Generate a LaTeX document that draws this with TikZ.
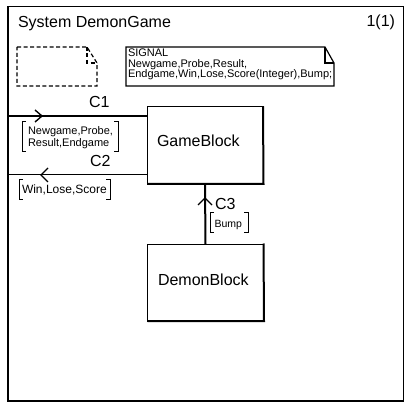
\documentclass[tikz,border=0pt]{standalone}
\usepackage{fontspec}
\setmainfont{Liberation Sans}
\begin{document}
\begin{tikzpicture}[x=1pt,y=-1pt,
  every node/.style={inner sep=0pt,outer sep=0pt},
  blockbox/.style={draw,line width=1pt,rectangle,minimum width=116pt,minimum height=77pt},
  big/.style={font=\fontsize{16}{18}\selectfont},
  small/.style={font=\fontsize{11}{11}\selectfont},
  tiny/.style={font=\fontsize{10.5}{10.5}\selectfont},
  chev/.style={line width=1.4pt},
  brk/.style={line width=1pt},
  note/.style={line width=1.2pt}]
\useasboundingbox (0,0) rectangle (410,409);
% frame
\draw[line width=1pt] (8,7) -- (403,7) -- (403,401);
\draw[line width=2pt] (8,6.5) -- (8,401) -- (403.5,401);
\node[big,anchor=base west] (title) at (18,28) {System DemonGame};
\node[big,anchor=base east] (page) at (395,27) {1(1)};
% dashed note
\draw[note,dash pattern=on 4pt off 2.5pt] (17,47) -- (87,47) -- (97,63) -- (97,86) -- (17,86) -- cycle;
\draw[note,dash pattern=on 4pt off 2.5pt] (87,47) -- (87,63) -- (97,63);
% signal note
\draw[note] (126,47) -- (325,47) -- (334,63) -- (334,86) -- (126,86) -- cycle;
\draw[note] (325,47) -- (325,63) -- (334,63);
\node[small,anchor=north west,align=left,font=\fontsize{11}{10.5}\selectfont] (sig) at (128,49)
  {SIGNAL\\Newgame,Probe,Result,\\Endgame,Win,Lose,Score(Integer),Bump;};
% blocks
\node[blockbox] (gb) at (205,145.5) {};
\draw[line width=2pt] ([yshift=0.5pt]gb.north east) -- ([xshift=0.5pt]gb.south east) -- (gb.south west);
\node[big,anchor=base west] (gbt) at (157,147) {GameBlock};
\node[blockbox] (db) at (205.5,282.5) {};
\draw[line width=2pt] ([yshift=0.5pt]db.north east) -- ([xshift=0.5pt]db.south east) -- (db.south west);
\node[big,anchor=base west] (dbt) at (158,285) {DemonBlock};
% C1
\coordinate (c1s) at (8,116);
\draw[line width=2pt] (c1s) -- (c1s -| gb.west);
\draw[chev] (35,110) -- (42,116) -- (35,122);
\node[big,anchor=base west] (c1) at (89,108) {C1};
\draw[brk] (26,122) -- (22,122) -- (22,152) -- (26,152);
\draw[brk] (114,122) -- (118,122) -- (118,152) -- (114,152);
\node[anchor=north west,align=left,font=\fontsize{11}{9}\selectfont] (c1a) at (28,127)
  {Newgame,Probe,\\Result,Endgame};
% C2
\coordinate (c2s) at (8,175);
\draw[line width=1pt] (c2s) -- (c2s -| gb.west);
\draw[chev] (48,168) -- (41,175) -- (48,182);
\node[big,anchor=base west] (c2) at (90,167) {C2};
\draw[brk] (23,180) -- (19,180) -- (19,200) -- (23,200);
\draw[brk] (106,180) -- (110,180) -- (110,200) -- (106,200);
\node[anchor=base west,font=\fontsize{12}{12}\selectfont] (c2a) at (22,193.5) {Win,Lose,Score};
% C3
\draw[line width=2pt] (db.north) -- (gb.south);
\draw[chev] (198,205) -- (205,198) -- (212,205);
\node[big,anchor=base west] (c3) at (215,210) {C3};
\draw[brk] (214,213) -- (210,213) -- (210,233) -- (214,233);
\draw[brk] (244,213) -- (248,213) -- (248,233) -- (244,233);
\node[tiny,anchor=base west] (c3a) at (214.5,227) {Bump};
\end{tikzpicture}
\end{document}
